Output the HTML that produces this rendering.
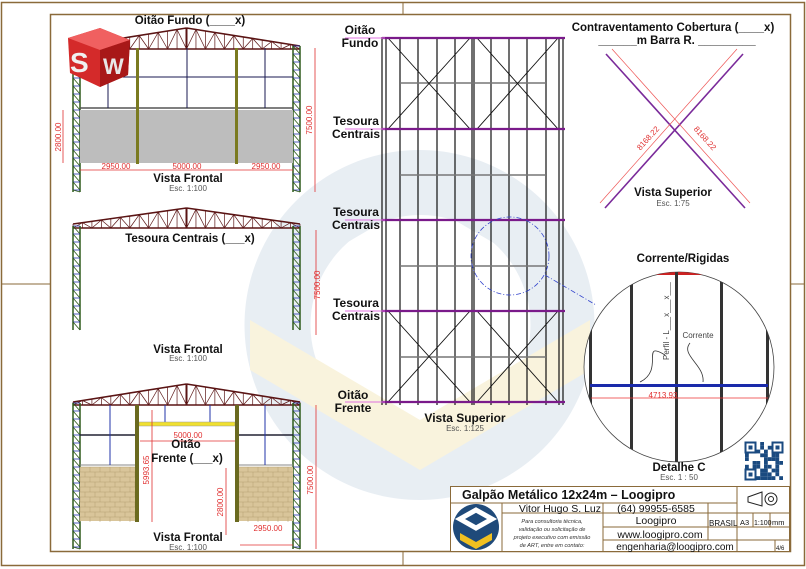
<!DOCTYPE html>
<html><head><meta charset="utf-8"><style>
html,body{margin:0;padding:0;background:#fff;}
svg{display:block;}
text{font-family:"Liberation Sans",sans-serif;}
.b{font-weight:bold;fill:#111;font-size:11.5px;}
.s{fill:#555;font-size:8px;}
.d{fill:#e03030;font-size:8px;}
</style></head><body>
<svg id="S" width="806" height="569" viewBox="0 0 806 569" xmlns="http://www.w3.org/2000/svg">
<rect width="806" height="569" fill="#fff"/>
<!-- watermark -->
<g opacity="0.7">
<path d="M420 150 A175 175 0 1 1 419 150 Z M420 215 A110 110 0 1 0 421 215 Z" fill="#dfe7ef" fill-rule="evenodd"/>
<polygon points="250,320 420,420 590,320 590,370 420,470 250,370" fill="#f7efcf"/>
<polygon points="300,230 420,160 540,230 540,270 420,200 300,270" fill="#dfe7ef"/>
</g>
<!-- frames -->
<g stroke="#8a6a3a" fill="none">
<rect x="1.5" y="2.5" width="803" height="563" stroke-width="1.5"/>
<rect x="50.5" y="14.5" width="740" height="537" stroke-width="1.5"/>
<line x1="403" y1="2" x2="403" y2="14"/><line x1="403" y1="552" x2="403" y2="566"/>
<line x1="1" y1="284" x2="50" y2="284"/><line x1="790" y1="284" x2="805" y2="284"/>
</g>
<g id="dyn"></g>

<!-- TOP elevation -->
<rect x="80" y="110" width="213" height="53" fill="#bdbdbd"/>
<line x1="80" y1="108" x2="293" y2="108" stroke="#555" stroke-width="1.5"/>
<g stroke="#1a1a50" stroke-width="1"><line x1="80" y1="77" x2="293" y2="77"/><line x1="187" y1="48" x2="187" y2="108"/><line x1="108" y1="48" x2="108" y2="108"/><line x1="265" y1="48" x2="265" y2="108"/></g>
<rect x="136" y="48" width="3" height="116" fill="#7a7a20"/><rect x="235" y="48" width="3" height="116" fill="#7a7a20"/>
<text x="190" y="24" class="b" text-anchor="middle">Oitão Fundo (____x)</text>
<text x="188" y="182" class="b" font-size="9.5" text-anchor="middle">Vista Frontal</text>
<text x="188" y="191" class="s" text-anchor="middle">Esc. 1:100</text>
<g stroke="#e03030" stroke-width="0.8" fill="none"><line x1="80" y1="170" x2="293" y2="170"/><line x1="315" y1="48" x2="315" y2="192"/><line x1="63" y1="110" x2="63" y2="163"/></g>
<text x="116" y="169" class="d" text-anchor="middle">2950.00</text><text x="187" y="169" class="d" text-anchor="middle">5000.00</text><text x="266" y="169" class="d" text-anchor="middle">2950.00</text>
<text class="d" transform="translate(312,120) rotate(-90)" text-anchor="middle">7500.00</text>
<text class="d" transform="translate(61,137) rotate(-90)" text-anchor="middle">2800.00</text>
<!-- SW logo -->
<g><polygon points="68,38 100,28 130,40 128,75 100,87 70,73" fill="#d42a2a"/><polygon points="68,38 100,28 130,40 100,50" fill="#f06060"/><polygon points="100,50 130,40 128,75 100,87" fill="#a81818"/>
<text x="70" y="72" font-size="28" font-weight="bold" fill="#f0f0f0" font-family="Liberation Sans">S</text><text x="103" y="74" font-size="22" font-weight="bold" fill="#e8e8e8" font-family="Liberation Sans">W</text></g>

<!-- MIDDLE -->
<text x="190" y="242" class="b" text-anchor="middle">Tesoura Centrais (___x)</text>
<text x="188" y="353" class="b" font-size="9.5" text-anchor="middle">Vista Frontal</text>
<text x="188" y="361" class="s" text-anchor="middle">Esc. 1:100</text>
<line x1="316" y1="230" x2="316" y2="335" stroke="#e03030" stroke-width="0.8"/>
<text class="d" transform="translate(320,285) rotate(-90)" text-anchor="middle">7500.00</text>

<!-- BOTTOM -->
<rect x="80" y="467" width="57" height="54" fill="#d9c59a"/><rect x="238" y="467" width="55" height="54" fill="#d9c59a"/>
<g id="brick" stroke="#b59f72" stroke-width="0.5"></g>
<g stroke="#223" stroke-width="1"><line x1="80" y1="435" x2="137" y2="435" stroke-width="1.5"/><line x1="238" y1="435" x2="293" y2="435" stroke-width="1.5"/><line x1="80" y1="465" x2="137" y2="465" stroke="#888"/><line x1="238" y1="465" x2="293" y2="465" stroke="#888"/>
<line x1="110" y1="405" x2="110" y2="465" stroke="#2233aa"/><line x1="265" y1="405" x2="265" y2="465" stroke="#2233aa"/><line x1="165" y1="405" x2="165" y2="422" stroke="#2233aa"/><line x1="210" y1="405" x2="210" y2="422" stroke="#2233aa"/></g>
<rect x="139" y="422" width="96" height="4" fill="#f0e030" stroke="#999" stroke-width="0.5"/>
<rect x="135" y="405" width="4" height="117" fill="#6a6a20"/><rect x="235" y="405" width="4" height="117" fill="#6a6a20"/>
<g stroke="#e03030" stroke-width="0.8"><line x1="140" y1="441" x2="235" y2="441"/><line x1="152" y1="410" x2="152" y2="522"/><line x1="226" y1="468" x2="226" y2="535"/><line x1="240" y1="545" x2="293" y2="545"/><line x1="316" y1="405" x2="316" y2="549"/></g>
<text x="188" y="438" class="d" text-anchor="middle">5000.00</text>
<text x="186" y="448" class="b" text-anchor="middle">Oitão</text><text x="187" y="462" class="b" text-anchor="middle">Frente (___x)</text>
<text class="d" transform="translate(149,470) rotate(-90)" text-anchor="middle">5993.65</text>
<text class="d" transform="translate(223,502) rotate(-90)" text-anchor="middle">2800.00</text>
<text class="d" transform="translate(313,480) rotate(-90)" text-anchor="middle">7500.00</text>
<text x="268" y="531" class="d" text-anchor="middle">2950.00</text>
<text x="188" y="541" class="b" font-size="9.5" text-anchor="middle">Vista Frontal</text>
<text x="188" y="550" class="s" text-anchor="middle">Esc. 1:100</text>

<!-- PLAN -->
<g id="plan" stroke="#111" stroke-width="1" fill="none"></g>
<g class="b" text-anchor="middle" style="font-size:12px"><text x="360" y="34">Oitão</text><text x="360" y="47">Fundo</text>
<text x="356" y="125">Tesoura</text><text x="356" y="138">Centrais</text>
<text x="356" y="216">Tesoura</text><text x="356" y="229">Centrais</text>
<text x="356" y="307">Tesoura</text><text x="356" y="320">Centrais</text>
<text x="353" y="399">Oitão</text><text x="353" y="412">Frente</text>
<text x="465" y="422">Vista Superior</text></g>
<text x="465" y="431" class="s" text-anchor="middle">Esc. 1:125</text>
<circle cx="510" cy="256" r="39" fill="none" stroke="#3344cc" stroke-width="0.8" stroke-dasharray="5,2,1,2"/>
<line x1="545" y1="275" x2="596" y2="305" stroke="#3344cc" stroke-width="0.8" stroke-dasharray="5,2,1,2"/>

<!-- BRACING -->
<text x="673" y="31" class="b" text-anchor="middle">Contraventamento Cobertura (____x)</text>
<text x="677" y="44" class="b" text-anchor="middle">______m Barra R. _________</text>
<g stroke="#7a2a9a" stroke-width="1.6"><line x1="606" y1="54" x2="745" y2="208"/><line x1="743" y1="54" x2="605" y2="208"/></g>
<g stroke="#ee5555" stroke-width="0.7"><line x1="612" y1="49" x2="750" y2="203"/><line x1="737" y1="49" x2="600" y2="203"/></g>
<text class="d" transform="translate(650,140) rotate(-48)" text-anchor="middle">8168.22</text>
<text class="d" transform="translate(703,140) rotate(48)" text-anchor="middle">8168.22</text>
<text x="673" y="196" class="b" text-anchor="middle">Vista Superior</text>
<text x="673" y="206" class="s" text-anchor="middle">Esc. 1:75</text>

<!-- DETAIL -->
<text x="683" y="262" class="b" text-anchor="middle">Corrente/Rigidas</text>
<clipPath id="cc"><circle cx="679" cy="367" r="95"/></clipPath>
<circle cx="679" cy="367" r="95" fill="#fff" stroke="#444" stroke-width="0.8"/>
<g clip-path="url(#cc)">
<rect x="630" y="270" width="100" height="5" fill="#cc2222"/>
<g fill="#333"><rect x="589" y="260" width="3" height="220"/><rect x="630" y="260" width="3" height="220"/><rect x="675" y="260" width="3" height="220"/><rect x="720" y="260" width="3" height="220"/><rect x="766" y="260" width="3" height="220"/></g>
<rect x="590" y="384" width="178" height="3" fill="#1a2aaa"/>
<line x1="591" y1="398" x2="768" y2="398" stroke="#ee3333" stroke-width="0.8"/>
</g>
<text x="663" y="398" class="d" font-size="9" text-anchor="middle">4713.93</text>
<text x="698" y="338" fill="#444" font-size="8" text-anchor="middle" font-family="Liberation Sans">Corrente</text>
<text transform="translate(669,360) rotate(-90)" fill="#444" font-size="8" font-family="Liberation Sans">Perfil - L___x___x___</text>
<path d="M665 355 C640 340 665 370 640 382 M690 343 C680 355 705 365 703 382" stroke="#333" fill="none" stroke-width="0.8"/>
<text x="679" y="471" class="b" text-anchor="middle">Detalhe C</text>
<text x="679" y="480" class="s" text-anchor="middle">Esc. 1 : 50</text>
<g id="qr" fill="#1a4a80"></g>

<!-- TITLE BLOCK -->
<g stroke="#8a6a3a" stroke-width="1" fill="none">
<rect x="450.5" y="486.5" width="339" height="65" fill="#fff"/>
<line x1="450" y1="503" x2="737" y2="503"/><line x1="502" y1="503" x2="502" y2="552"/>
<line x1="502" y1="513" x2="790" y2="513"/><line x1="603" y1="527" x2="790" y2="527"/><line x1="603" y1="540" x2="790" y2="540"/>
<line x1="603" y1="503" x2="603" y2="552"/><line x1="708" y1="503" x2="708" y2="540"/><line x1="737" y1="486" x2="737" y2="552"/>
<line x1="753" y1="513" x2="753" y2="527"/><line x1="770" y1="513" x2="770" y2="527"/><line x1="775" y1="540" x2="775" y2="552"/>
</g>
<text x="462" y="499" class="b" font-size="12.5" style="font-size:12.5px">Galpão Metálico 12x24m – Loogipro</text>
<text x="601" y="512" fill="#111" font-size="10.5" text-anchor="end" font-family="Liberation Sans">Vitor Hugo S. Luz</text>
<text x="656" y="512" fill="#111" font-size="10.5" text-anchor="middle" font-family="Liberation Sans">(64) 99955-6585</text>
<text x="656" y="524" fill="#111" font-size="10.5" text-anchor="middle" font-family="Liberation Sans">Loogipro</text>
<text x="709" y="526" fill="#111" font-size="8" font-family="Liberation Sans">BRASIL</text>
<text x="740" y="525" fill="#111" font-size="7.5" font-family="Liberation Sans">A3</text><text x="754" y="525" fill="#111" font-size="7" font-family="Liberation Sans">1:100</text><text x="772" y="525" fill="#111" font-size="7.5" font-family="Liberation Sans">mm</text>
<text x="660" y="538" fill="#111" font-size="10.5" text-anchor="middle" font-family="Liberation Sans">www.loogipro.com</text>
<text x="675" y="550" fill="#111" font-size="10" text-anchor="middle" font-family="Liberation Sans">engenharia@loogipro.com</text>
<text x="776" y="550" fill="#111" font-size="6" font-family="Liberation Sans">4/6</text>
<g fill="#333" font-size="5.6" font-style="italic" text-anchor="middle" font-family="Liberation Sans"><text x="552" y="523">Para consultoria técnica,</text><text x="552" y="531">validação ou solicitação de</text><text x="552" y="539">projeto executivo com emissão</text><text x="552" y="547">de ART, entre em contato:</text></g>
<g stroke="#222" fill="none" stroke-width="1"><polygon points="748,497 762,492 762,506 748,502"/><circle cx="771" cy="499" r="6"/><circle cx="771" cy="499" r="2.5"/></g>
<g><circle cx="476" cy="527" r="23" fill="#1f4a7a"/><polygon points="476,510 492,519 476,528 460,519" fill="none" stroke="#fff" stroke-width="5"/><polygon points="460,533 476,542 492,533 492,540 476,549 460,540" fill="#f0c020"/></g>
</svg>
<script>
var NS="http://www.w3.org/2000/svg",dyn=document.getElementById("dyn");
function el(p,t,a){var e=document.createElementNS(NS,t);for(var k in a)e.setAttribute(k,a[k]);p.appendChild(e);return e;}
function L(p,x1,y1,x2,y2,c,w){el(p,"line",{x1:x1,y1:y1,x2:x2,y2:y2,stroke:c,"stroke-width":w||1});}
function truss(x1,x2,ye,yp,yb){var xm=(x1+x2)/2,c="#5a1414";L(dyn,x1,ye,xm,yp,c,1.6);L(dyn,xm,yp,x2,ye,c,1.6);L(dyn,x1,yb,x2,yb,c,1.6);L(dyn,xm,yp,xm,yb,c,2);
var n=24;for(var i=0;i<=n;i++){var x=x1+(x2-x1)*i/n;var yt=x<xm?ye+(yp-ye)*(x-x1)/(xm-x1):ye+(yp-ye)*(x2-x)/(x2-xm);L(dyn,x,yt,x,yb,c,0.7);
if(i<n){var xn=x1+(x2-x1)*(i+1)/n;var ytn=xn<=xm?ye+(yp-ye)*(xn-x1)/(xm-x1):ye+(yp-ye)*(x2-xn)/(x2-xm);if(i%2==0)L(dyn,x,yb,xn,ytn,c,0.7);else L(dyn,x,yt,xn,yb,c,0.7);}}}
function col(x,y1,y2){L(dyn,x,y1,x,y2,"#2e5a1a",1.5);L(dyn,x+7,y1,x+7,y2,"#2e5a1a",1.5);for(var y=y1;y<y2;y+=8){L(dyn,x,y,x+7,y,"#2233aa",0.8);L(dyn,x,y,x+7,Math.min(y+8,y2),"#2e5a1a",0.8);}}
truss(73,300,46,28,49);col(73,46,192);col(293,46,192);
truss(73,300,224,208,228);col(73,226,330);col(293,226,330);
truss(73,300,402,384,405);col(73,403,549);col(293,403,549);
var br=document.getElementById("brick");
[[80,137],[238,293]].forEach(function(r){for(var y=467,j=0;y<521;y+=5,j++){L(br,r[0],y,r[1],y,"#b59f72",0.5);for(var x=r[0]+(j%2?5:0);x<r[1];x+=10)L(br,x,y,x,y+5,"#b59f72",0.5);}});
var pl=document.getElementById("plan");
[382,386,400,418,437,455,472,474,491,509,527,546,559,563].forEach(function(x){L(pl,x,37,x,405,"#111",1.2);});
[83,175,266,357].forEach(function(y){L(pl,400,y,546,y,"#777",1.5);});
[[38,129],[311,402]].forEach(function(b){L(pl,388,b[0],470,b[1],"#111",0.9);L(pl,470,b[0],388,b[1],"#111",0.9);L(pl,477,b[0],558,b[1],"#111",0.9);L(pl,558,b[0],477,b[1],"#111",0.9);});
[38,129,220,311,402].forEach(function(y){L(pl,382,y,565,y,"#7a1a8a",2.2);L(pl,345,y,385,y,"#e070e0",1);});
var q=document.getElementById("qr");var s=1;for(var i=0;i<10;i++)for(var j=0;j<10;j++){s=(s*9301+49297)%233280;if(s/233280>0.5)el(q,"rect",{x:745+i*3.8,y:442+j*3.8,width:3.8,height:3.8});}
[[745,442],[772,442],[745,469]].forEach(function(p){el(q,"rect",{x:p[0],y:p[1],width:11,height:11,fill:"#fff"});el(q,"rect",{x:p[0]+0.5,y:p[1]+0.5,width:10,height:10,fill:"none",stroke:"#1a4a80","stroke-width":2});el(q,"rect",{x:p[0]+3.5,y:p[1]+3.5,width:4,height:4});});
</script>
</body></html>
